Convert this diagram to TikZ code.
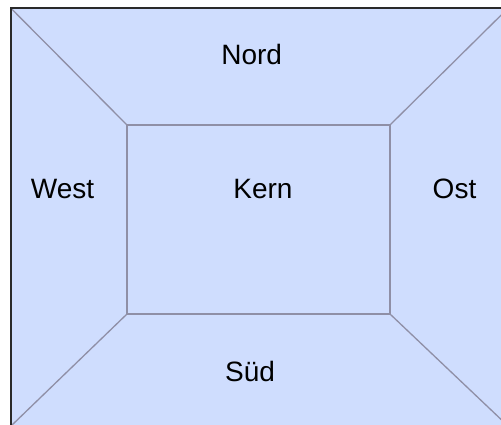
\documentclass[tikz,border=0pt]{standalone}
\usepackage{fontspec}
\setmainfont{Liberation Sans}
\definecolor{panelfill}{HTML}{CFDDFE}
\definecolor{edgeline}{HTML}{8F8FA6}
\definecolor{frameline}{HTML}{2A2A2A}
\begin{document}
\begin{tikzpicture}[x=1pt,y=-1pt,
  lbl/.style={anchor=base,inner sep=0pt,font=\fontsize{28}{30}\selectfont},
  seam/.style={draw=edgeline,line width=1.3pt},
  frame/.style={draw=frameline,line width=2pt}]
\useasboundingbox (0,0) rectangle (501,425);
\clip (0,0) rectangle (501,425);
% outer corners
\coordinate (OTL) at (11,8.3);
\coordinate (OTR) at (508,8.3);
\coordinate (OBR) at (508,426);
\coordinate (OBL) at (11,426);
% inner corners
\coordinate (ITL) at (127,125);
\coordinate (ITR) at (390,125);
\coordinate (IBR) at (390,314);
\coordinate (IBL) at (127,314);
\fill[panelfill] (OTL) rectangle (OBR);
\draw[seam] (OTL) -- (ITL);
\draw[seam] (OTR) -- (ITR);
\draw[seam] (OBR) -- (IBR);
\draw[seam] (OBL) -- (IBL);
\draw[seam] (ITL) rectangle (IBR);
\draw[frame] (OTL) rectangle (OBR);
\node[lbl] (nord) at (251.7,65) {Nord};
\node[lbl] (kern) at (263,198.3) {Kern};
\node[lbl] (west) at (62.5,198.3) {West};
\node[lbl] (ost) at (454.5,198.3) {Ost};
\node[lbl] (sued) at (250,381.7) {Süd};
\end{tikzpicture}
\end{document}
